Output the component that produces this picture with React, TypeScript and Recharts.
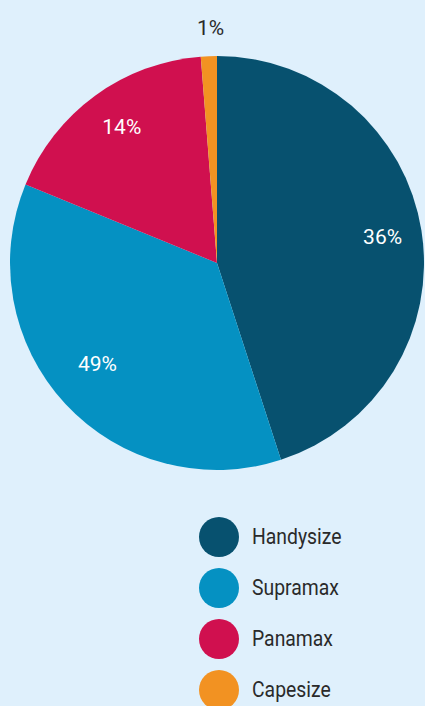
import { PieChart, Pie, Cell } from "recharts";

const categories = ["Handysize", "Supramax", "Panamax", "Capesize"];
const shares = [45, 36.2, 17.55, 1.25];
const labelTexts = ["36%", "49%", "14%", "1%"];
const colors = ["#07516f", "#0591c2", "#d0104f", "#f29222"];

const FONT = "Roboto, 'Liberation Sans', sans-serif";
const RAD = Math.PI / 180;

// label placement nudges (radius factor, angle shift in degrees)
const labelRadius = [0.81, 0.755, 0.8, 1.135];
const labelShift = [0, -2.7, -1, -0.7];

const data = categories.map((name, i) => ({ name, value: shares[i] }));

function renderLabel(props: any) {
  const { cx, cy, midAngle, outerRadius, index } = props;
  const outside = index === 3;
  const r = outerRadius * labelRadius[index];
  const a = midAngle + labelShift[index];
  const x = cx + r * Math.cos(-a * RAD);
  const y = cy + r * Math.sin(-a * RAD);
  return (
    <text
      x={x}
      y={y}
      fill={outside ? "#2a2a2a" : "#ffffff"}
      textAnchor="middle"
      dominantBaseline="central"
      fontFamily={FONT}
      fontSize={21}
    >
      {labelTexts[index]}
    </text>
  );
}

function LegendList() {
  return (
    <div style={{ position: "absolute", left: 199, top: 511, fontFamily: FONT }}>
      {categories.map((c, i) => (
        <div key={c} style={{ display: "flex", alignItems: "center", height: 51 }}>
          <svg width={40} height={40} style={{ marginRight: 13 }}>
            <circle cx={20} cy={20} r={20} fill={colors[i]} />
          </svg>
          <span
            style={{
              fontSize: 22,
              color: "#2a2a2a",
              display: "inline-block",
              transform: "scaleX(0.88)",
              transformOrigin: "left center",
            }}
          >
            {c}
          </span>
        </div>
      ))}
    </div>
  );
}

export default function App() {
  return (
    <div style={{ position: "absolute", left: 0, top: 0, width: 425, height: 706, background: "#dff0fc", overflow: "hidden" }}>
      <PieChart width={425} height={706} margin={{ top: 0, right: 0, bottom: 0, left: 0 }}>
        <Pie
          data={data}
          dataKey="value"
          nameKey="name"
          cx={217}
          cy={263}
          outerRadius={207}
          startAngle={90}
          endAngle={-270}
          stroke="none"
          label={renderLabel}
          labelLine={false}
          isAnimationActive={false}
        >
          {data.map((d, i) => (
            <Cell key={d.name} fill={colors[i]} />
          ))}
        </Pie>
      </PieChart>
      <LegendList />
    </div>
  );
}
